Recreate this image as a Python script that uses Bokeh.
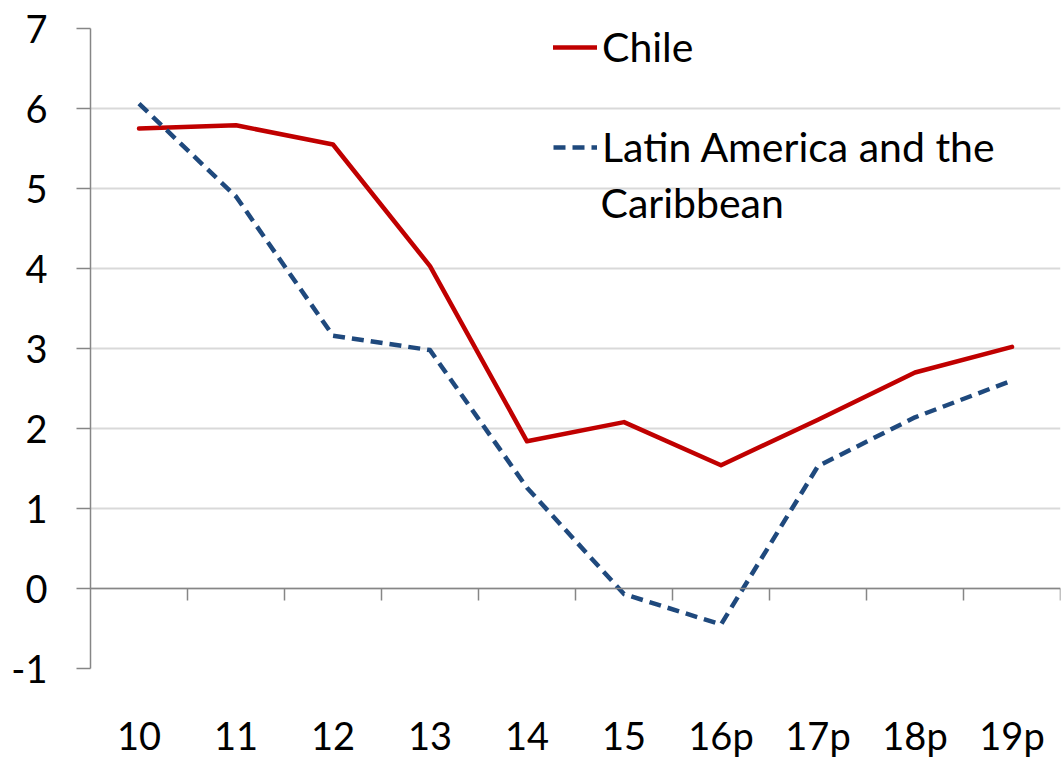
from bokeh.plotting import figure
from bokeh.models import Range1d, FixedTicker, Legend, LegendItem, Span, Label
from bokeh.embed import file_html
from bokeh.resources import INLINE

categories = ["10", "11", "12", "13", "14", "15", "16p", "17p", "18p", "19p"]
chile = [5.75, 5.79, 5.55, 4.03, 1.84, 2.08, 1.54, 2.11, 2.70, 3.02]
lac = [6.06, 4.90, 3.16, 2.98, 1.26, -0.07, -0.45, 1.53, 2.14, 2.60]
y_ticks = [-1, 0, 1, 2, 3, 4, 5, 6, 7]
series_names = ["Chile", "Latin America and the", "Caribbean"]

FONT = "Lato"
n = len(categories)
xc = [i + 0.5 for i in range(n)]
bounds = [i for i in range(1, n + 1)]

p = figure(frame_width=970, frame_height=640, output_backend="svg", toolbar_location=None,
           x_range=Range1d(0, n), y_range=Range1d(min(y_ticks), max(y_ticks)),
           min_border_left=90, min_border_right=2, min_border_top=28, min_border_bottom=85)
p.outline_line_color = None
p.background_fill_color = "white"

# y axis
p.yaxis.ticker = FixedTicker(ticks=y_ticks)
p.yaxis.major_label_overrides = {t: str(t) for t in y_ticks}
p.yaxis.axis_line_color = "#868686"
p.yaxis.axis_line_width = 1.5
p.yaxis.major_tick_line_color = "#868686"
p.yaxis.major_tick_line_width = 1.5
p.yaxis.major_tick_out = 14
p.yaxis.major_tick_in = 0
p.yaxis.minor_tick_line_color = None
p.yaxis.major_label_text_font = FONT
p.yaxis.major_label_text_font_size = "38px"
p.yaxis.major_label_text_color = "black"
p.yaxis.major_label_standoff = 29

# x axis (labels only)
p.xaxis.ticker = FixedTicker(ticks=xc)
p.xaxis.major_label_overrides = {x: c for x, c in zip(xc, categories)}
p.xaxis.axis_line_color = None
p.xaxis.major_tick_line_color = None
p.xaxis.minor_tick_line_color = None
p.xaxis.major_label_text_font = FONT
p.xaxis.major_label_text_font_size = "38px"
p.xaxis.major_label_text_color = "black"
p.xaxis.major_label_standoff = 37

p.ygrid.ticker = FixedTicker(ticks=y_ticks)
p.ygrid.grid_line_color = "#d9d9d9"
p.ygrid.grid_line_width = 2
p.xgrid.visible = False

# category axis at zero
p.add_layout(Span(location=0, dimension="width", line_color="#868686", line_width=1.5))
p.segment(x0=bounds, y0=[0] * n, x1=bounds, y1=[-0.15] * n, line_color="#868686", line_width=1.5)

r1 = p.line(xc, chile, line_color="#C00000", line_width=4.5, line_cap="round", line_join="round")
r2 = p.line(xc, lac, line_color="#1F497D", line_width=4.5, line_dash="12 7", line_join="round")

legend = Legend(items=[LegendItem(label=series_names[0], renderers=[r1]),
                       LegendItem(label=series_names[1], renderers=[r2])],
                location=(463, 497), padding=0, margin=0, spacing=51,
                glyph_width=44, label_standoff=5,
                label_text_font=FONT, label_text_font_size="41px", label_text_color="black",
                border_line_color=None, background_fill_alpha=0)
p.add_layout(legend)
p.add_layout(Label(x=510, y=466, x_units="screen", y_units="screen", text=series_names[2],
                   text_font=FONT, text_font_size="41px", text_color="black",
                   text_baseline="middle", text_align="left"))

open("out.html", "w").write(file_html(p, INLINE))
